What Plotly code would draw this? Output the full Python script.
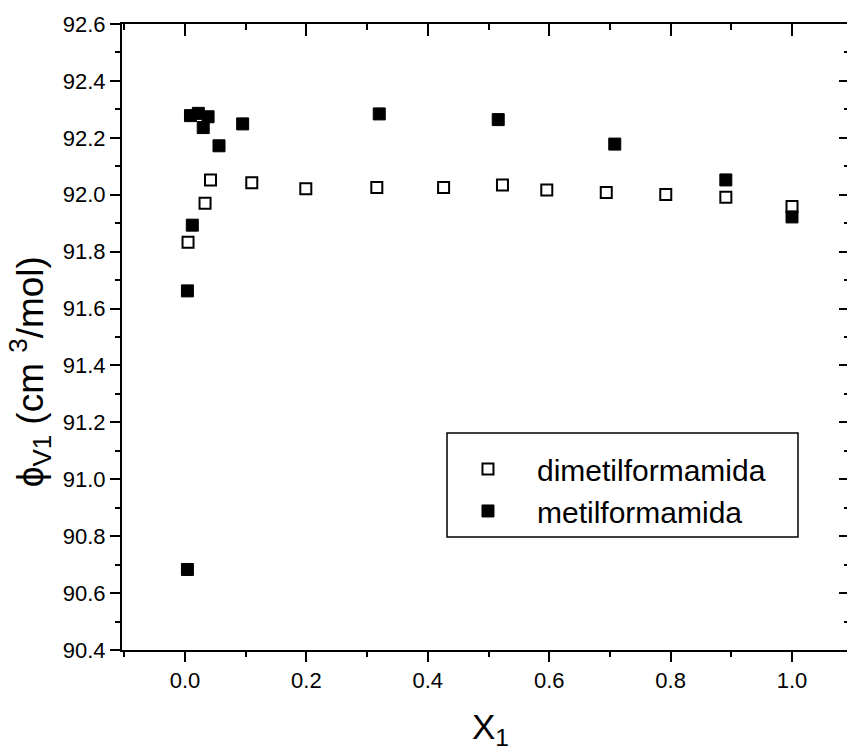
import plotly.graph_objects as go

# Apparent molar volume data
x_dmf = [0.005, 0.033, 0.042, 0.110, 0.199, 0.316, 0.426, 0.523, 0.596, 0.694, 0.792, 0.891, 1.000]
y_dmf = [91.833, 91.970, 92.052, 92.042, 92.021, 92.025, 92.025, 92.034, 92.017, 92.008, 92.001, 91.991, 91.959]

x_mf = [0.004, 0.004, 0.012, 0.009, 0.022, 0.030, 0.038, 0.056, 0.095, 0.320, 0.516, 0.708, 0.891, 1.000]
y_mf = [90.683, 91.662, 91.893, 92.278, 92.286, 92.236, 92.274, 92.172, 92.249, 92.284, 92.264, 92.178, 92.052, 91.922]

series_names = ["dimetilformamida", "metilformamida"]

x_ticks = [0.0, 0.2, 0.4, 0.6, 0.8, 1.0]
x_ticktext = ["0.0", "0.2", "0.4", "0.6", "0.8", "1.0"]
y_ticks = [90.4, 90.6, 90.8, 91.0, 91.2, 91.4, 91.6, 91.8, 92.0, 92.2, 92.4, 92.6]
y_ticktext = ["%.1f" % v for v in y_ticks]

x_range = [-0.1038, 1.0906]
y_range = [90.4, 92.6]

FONT = "Liberation Sans, Arial, sans-serif"
BLACK = "black"

fig = go.Figure()
fig.add_trace(go.Scatter(
    x=x_dmf, y=y_dmf, mode="markers", name=series_names[0],
    marker=dict(symbol="square-open", size=11, color=BLACK, line=dict(width=2, color=BLACK)),
))
fig.add_trace(go.Scatter(
    x=x_mf, y=y_mf, mode="markers", name=series_names[1],
    marker=dict(symbol="square", size=12, color=BLACK, line=dict(width=1, color=BLACK)),
))
# empty trace that carries the top/right frame axes
fig.add_trace(go.Scatter(x=[None], y=[None], xaxis="x2", yaxis="y2",
                         showlegend=False, hoverinfo="skip"))

common = dict(showgrid=False, zeroline=False, tickcolor=BLACK, tickwidth=2,
              linecolor=BLACK, linewidth=2)

fig.update_layout(
    width=847, height=755,
    margin=dict(l=122, r=0, t=24, b=105),
    paper_bgcolor="white", plot_bgcolor="white",
    font=dict(family=FONT, color=BLACK),
    xaxis=dict(
        range=x_range, tickmode="array", tickvals=x_ticks, ticktext=x_ticktext,
        ticks="outside", ticklen=10, showline=True,
        tickfont=dict(size=22, family=FONT, color=BLACK),
        minor=dict(ticks="outside", ticklen=5, tickwidth=2, tickcolor=BLACK,
                   tick0=0, dtick=0.1, showgrid=False),
        **common,
    ),
    yaxis=dict(
        range=y_range, tickmode="array", tickvals=y_ticks, ticktext=y_ticktext,
        ticks="outside", ticklen=10, showline=True,
        tickfont=dict(size=22, family=FONT, color=BLACK),
        minor=dict(ticks="outside", ticklen=5, tickwidth=2, tickcolor=BLACK,
                   tick0=90.4, dtick=0.1, showgrid=False),
        **common,
    ),
    xaxis2=dict(
        overlaying="x", side="top", anchor="y2", range=x_range,
        tickmode="array", tickvals=x_ticks, showticklabels=False,
        ticks="inside", ticklen=12, showline=True,
        minor=dict(ticks="inside", ticklen=6, tickwidth=2, tickcolor=BLACK,
                   tick0=0, dtick=0.1, showgrid=False),
        **common,
    ),
    yaxis2=dict(
        overlaying="y", side="right", anchor="x2", range=y_range,
        tickmode="array", tickvals=y_ticks, showticklabels=False,
        ticks="inside", ticklen=8, showline=False,
        minor=dict(ticks="inside", ticklen=3, tickwidth=2, tickcolor=BLACK,
                   tick0=90.4, dtick=0.1, showgrid=False),
        **common,
    ),
    legend=dict(
        x=0.4372, y=0.3307, xanchor="left", yanchor="top",
        bgcolor="rgba(0,0,0,0)", borderwidth=0, itemwidth=88,
        font=dict(size=30, family=FONT, color=BLACK),
    ),
    shapes=[dict(type="rect", xref="paper", yref="paper",
                 x0=0.4483, x1=0.9324, y0=0.1805, y1=0.3466,
                 line=dict(color=BLACK, width=1.5))],
    annotations=[
        dict(text="ϕ<sub>V1</sub> (cm <sup>3</sup>/mol)", textangle=-90,
             xref="paper", yref="paper", x=-0.127, y=0.445,
             xanchor="center", yanchor="middle", showarrow=False,
             font=dict(size=37, family=FONT, color=BLACK)),
        dict(text="X<sub>1</sub>", xref="paper", yref="paper",
             x=0.508, y=-0.088, xanchor="center", yanchor="top", showarrow=False,
             font=dict(size=35, family=FONT, color=BLACK)),
    ],
)

fig.write_html("out.html")
